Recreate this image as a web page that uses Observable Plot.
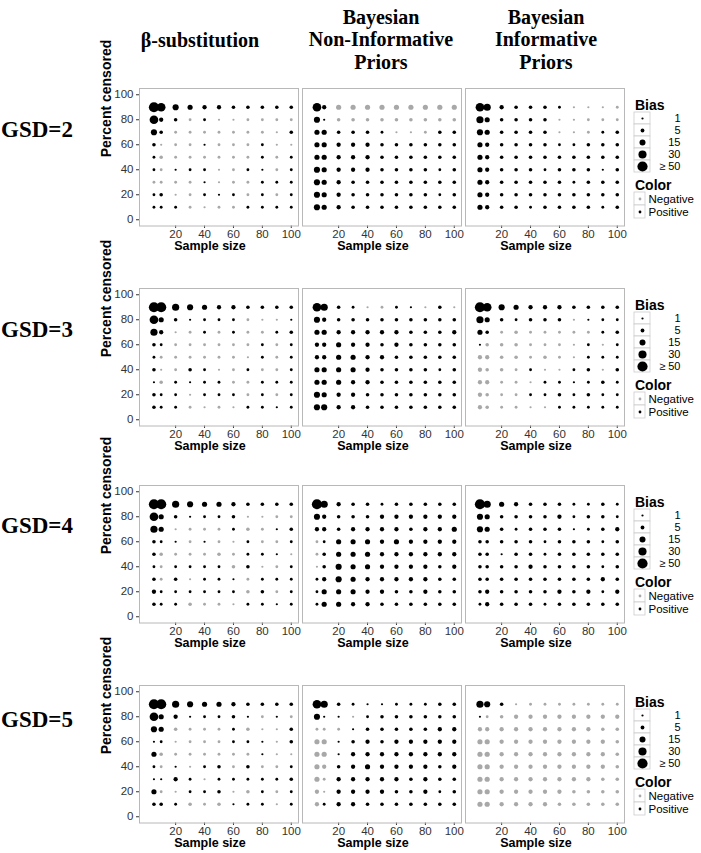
<!DOCTYPE html>
<html>
<head>
<meta charset="utf-8">
<script src="https://cdn.jsdelivr.net/npm/d3@7"></script>
<script src="https://cdn.jsdelivr.net/npm/@observablehq/plot@0.6"></script>
<style>
html,body{margin:0;padding:0;background:#fff;}
#root{position:relative;width:701px;height:853px;overflow:hidden;background:#fff;}
.serif{position:absolute;font-family:"Liberation Serif","Times New Roman",serif;font-weight:bold;color:#000;white-space:nowrap;}
.hdr{width:220px;text-align:center;font-size:20px;line-height:22.5px;}
.gsd{font-size:23px;line-height:26px;}
.ltitle{position:absolute;font-family:"Liberation Sans",Arial,sans-serif;font-weight:bold;font-size:14px;line-height:14px;color:#000;}
</style>
</head>
<body>
<div id="root"></div>
<script>
// ---------- data ----------
const methods = ["β-substitution", "Bayesian Non-Informative Priors", "Bayesian Informative Priors"];
const methodHeaders = [["β-substitution"], ["Bayesian", "Non-Informative", "Priors"], ["Bayesian", "Informative", "Priors"]];
const gsdLabels = ["GSD=2", "GSD=3", "GSD=4", "GSD=5"];
const sampleSizes = [5, 10, 20, 30, 40, 50, 60, 70, 80, 90, 100];
const percentCensored = [90, 80, 70, 60, 50, 40, 30, 20, 10];
const xTicks = [20, 40, 60, 80, 100];
const yTicks = [0, 20, 40, 60, 80, 100];
// estimated |bias| per size class: digits 1-9 = positive, letters a-i = negative
const biasLevels = [1, 2.2, 4.2, 6.7, 10.5, 16, 23, 35, 50];
const sizeLegendValues = [1, 5, 15, 30, 50];
const sizeLegendLabels = ["1", "5", "15", "30", "≥ 50"];
const colorLegendLabels = ["Negative", "Positive"];

// rows: percent censored 90 -> 10 ; columns: sample size 5 -> 100
const gsd2Beta = ["98654433333","843b2aabbbb","63bbbbbbba3","3abb1bbb2aa","2cbbbbbb2b2","2b122ab21b2","bbbb1abb222","23ab212b2b2","222babb2222"];
const gsd2NonInf = ["84eeeeeeeee","61ccccccccc","553332aab33","55444333333","55444333333","65444333323","65433333333","65433333323","65433333333"];
const gsd2Inf = ["8743332aaab","753333aabbb","653333aab23","54333322333","54333333333","54333233313","54333332333","54333333333","54332333323"];
const gsd3Beta = ["99765443333","8531222baa1","74ab2b2bb23","32bbbbbb2b2","2bbbbbba2b2","3ab32ab2bb2","1c2122bb222","322a222b2b2","322baba2212"];
const gsd3NonInf = ["8732ab21a3a","64333333333","55444443334","44544343333","44554433333","55554333323","55544333333","65443333333","66443333333"];
const gsd3Inf = ["98654443333","7532333a122","53bcbbbbb23","1cccbbba2a2","ddccbcba222","dccb2aa23a3","ddbba221232","dcbb2232322","dcbbaa22222"];
const gsd4Beta = ["99765543333","8531223aabb","75abbb2cb13","321b1ba2bb2","3cbbbcb221a","2b2222c3ab2","3b3a221b222","4222222c3b2","322cbba2212"];
const gsd4NonInf = ["97433233333","64333444444","44344443445","b2555454444","b3555444444","a3655444434","24654444433","25554433433","25544333333"];
const gsd4Inf = ["97543332232","65333342332","65323331234","33333233323","33133233333","33334333323","33333333343","34333343424","24333233333"];
const gsd5Beta = ["99765543333","85412231b1b","65cbbb2caa3","12abbb221a3","5cbbbbbb1aa","2b1a23b3bb2","1142a222223","5ba223ac2b2","332cbc122a2"];
const gsd5NonInf = ["87321122233","611a2333333","bbb13333344","ee134344444","ee144444444","ed345444434","eb444443433","da444433423","d2443333333"];
const gsd5Inf = ["763abbbbbbb","1bcdddddddd","dddddddddcc","eeddddddddc","eeddddddddc","eeddddddddc","eedddddddcc","eedddddcccc","eeddddccccc"];

const panels = [
  [gsd2Beta, gsd2NonInf, gsd2Inf],
  [gsd3Beta, gsd3NonInf, gsd3Inf],
  [gsd4Beta, gsd4NonInf, gsd4Inf],
  [gsd5Beta, gsd5NonInf, gsd5Inf]
];

function decode(c) {
  const pos = /[1-9]/.test(c);
  const lv = pos ? +c : c.charCodeAt(0) - 96;
  return (pos ? 1 : -1) * biasLevels[lv - 1];
}

const rows = [];
panels.forEach((rowPanels, gi) => rowPanels.forEach((grid, mi) => grid.forEach((str, ri) => [...str].forEach((c, ci) => {
  const bias = decode(c);
  rows.push({gsd: gsdLabels[gi], method: methods[mi], n: sampleSizes[ci], pc: percentCensored[ri],
             bias, absBias: Math.abs(bias), sign: bias < 0 ? "Negative" : "Positive"});
}))));

// ---------- layout ----------
const root = document.getElementById("root");
const y100 = [94, 294, 491, 691];
const gsdLabelY = [130, 330, 526, 720];
const headerCenters = [200, 381, 546];
const rScale = {type: "sqrt", domain: [1, 50], range: [1.1, 5.1], clamp: true};
const colorScale = {domain: colorLegendLabels, range: ["#a8a8a8", "#000000"]};
const sans = "'Liberation Sans', Arial, Helvetica, sans-serif";

function place(el, left, top) {
  el.style.position = "absolute";
  el.style.left = left + "px";
  el.style.top = top + "px";
  root.appendChild(el);
  return el;
}

// column headers
methodHeaders.forEach((lines, i) => {
  const d = document.createElement("div");
  d.className = "serif hdr";
  d.innerHTML = lines.map(s => `<div>${s}</div>`).join("");
  const top = lines.length === 1 ? 40 - 11.25 : 17 - 11.25;
  place(d, headerCenters[i] - 110, top);
});

gsdLabels.forEach((g, gi) => {
  const T = y100[gi] - 6.25;
  // row label
  const lab = document.createElement("div");
  lab.className = "serif gsd";
  lab.textContent = g;
  place(lab, 1, gsdLabelY[gi] - 13);

  const data = rows.filter(d => d.gsd === g);
  const plot = Plot.plot({
    width: 701, height: 172,
    marginLeft: 138, marginRight: 76, marginTop: 2, marginBottom: 32.5,
    style: {fontFamily: sans, fontSize: "11.5px", color: "#333", background: "transparent", overflow: "visible"},
    fx: {domain: methods, axis: null, paddingInner: 0.0245, paddingOuter: 0},
    x: {domain: [-5, 105], ticks: xTicks, tickSize: 2.5, tickPadding: 1, label: null},
    y: {domain: [-5, 105], ticks: yTicks, tickSize: 3, tickPadding: 3, label: null},
    r: rScale,
    color: colorScale,
    marks: [
      Plot.frame({stroke: "#b8b8b8"}),
      Plot.dot(data, {fx: "method", x: "n", y: "pc", r: "absBias", fill: "sign", stroke: null}),
      Plot.text(["Sample size"], {frameAnchor: "bottom", dy: 15.5, dx: -9, lineAnchor: "top", text: d => d, fontWeight: "bold", fontSize: 12.5, fill: "black"}),
      Plot.text(["Percent censored"], {fx: () => methods[0], frameAnchor: "left", dx: -33, rotate: -90, text: d => d, fontWeight: "bold", fontSize: 14, fill: "black"})
    ]
  });
  place(plot, 0, T - 2);

  // size legend
  const bt = document.createElement("div");
  bt.className = "ltitle"; bt.textContent = "Bias";
  place(bt, 635, T + 17 - 7);
  const sizeLeg = Plot.plot({
    width: 52, height: 66.5, marginLeft: 6, marginRight: 0, marginTop: 2, marginBottom: 2,
    style: {fontFamily: sans, fontSize: "11px", color: "#000", background: "transparent", overflow: "visible"},
    x: {type: "band", domain: ["k"], range: [6, 22], padding: 0, axis: null},
    y: {type: "band", domain: sizeLegendLabels, padding: 0, axis: null},
    r: rScale,
    marks: [
      Plot.cell(sizeLegendLabels, {x: () => "k", y: d => d, fill: "white", stroke: "#cccccc", strokeWidth: 0.8}),
      Plot.dot(sizeLegendValues, {x: () => "k", y: (d, i) => sizeLegendLabels[i], r: d => d, fill: "black"}),
      Plot.text(sizeLegendLabels, {y: d => d, frameAnchor: "right", textAnchor: "end", text: d => d, fill: "#000"})
    ]
  });
  place(sizeLeg, 628, T + 21.5);

  // color legend
  const ct = document.createElement("div");
  ct.className = "ltitle"; ct.textContent = "Color";
  place(ct, 635, T + 97 - 7);
  const colLeg = Plot.plot({
    width: 75, height: 30, marginLeft: 6, marginRight: 0, marginTop: 2, marginBottom: 2,
    style: {fontFamily: sans, fontSize: "11.5px", color: "#000", background: "transparent", overflow: "visible"},
    x: {type: "band", domain: ["k"], range: [6, 17], padding: 0, axis: null},
    y: {type: "band", domain: colorLegendLabels, padding: 0, axis: null},
    color: colorScale,
    marks: [
      Plot.cell(colorLegendLabels, {x: () => "k", y: d => d, fill: "white", stroke: "#cccccc", strokeWidth: 0.8}),
      Plot.dot(colorLegendLabels, {x: () => "k", y: d => d, r: 1.4, fill: d => d}),
      Plot.text(colorLegendLabels, {x: () => "k", y: d => d, dx: 8.5, textAnchor: "start", text: d => d, fill: "#000"})
    ]
  });
  place(colLeg, 628, T + 102.5);
});
</script>
</body>
</html>
